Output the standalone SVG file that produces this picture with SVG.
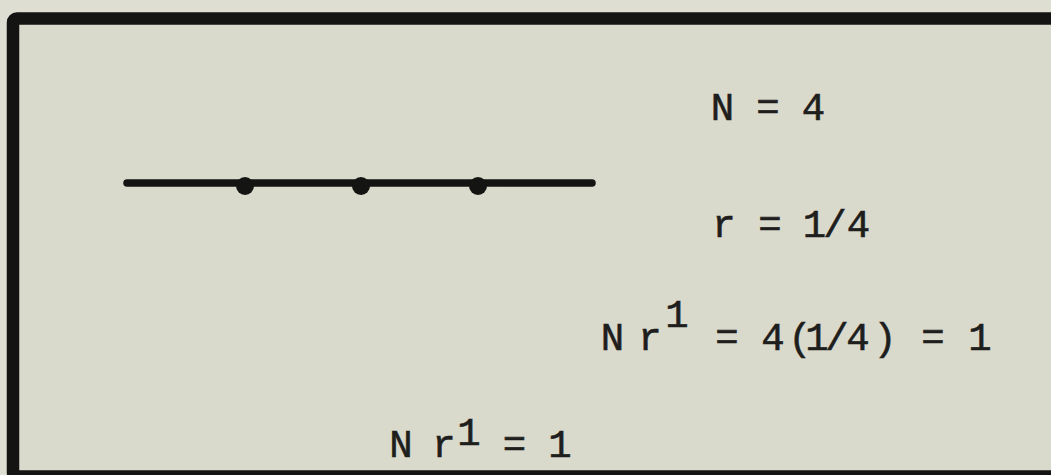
<svg xmlns="http://www.w3.org/2000/svg" width="1051" height="475" viewBox="0 0 1051 475">
<style>
.t{font-family:"Liberation Mono","DejaVu Sans Mono",monospace;font-size:39px;fill:#1e1e1c;text-anchor:middle;stroke:#1e1e1c;stroke-width:0.6}
.dot{fill:#141412}
</style>
<rect x="0" y="0" width="1051" height="475" fill="#deded2"/>
<rect id="frame" x="13" y="18.5" width="1100" height="458" fill="#d9d9cc" stroke="#141412" stroke-width="12.5" rx="4"/>
<g id="connectors">
<line x1="127" y1="183" x2="592" y2="183" stroke="#141412" stroke-width="7.5" stroke-linecap="round"/>
</g>
<g id="point1"><circle class="dot" cx="245" cy="186" r="9"/></g>
<g id="point2"><circle class="dot" cx="361" cy="186" r="9"/></g>
<g id="point3"><circle class="dot" cx="478" cy="186" r="9"/></g>
<g id="eq-N">
<text class="t" x="722.5 768 813.5" y="120">N=4</text>
</g>
<g id="eq-r">
<text class="t" x="724 770 814.5 835 858.5" y="237">r=1/4</text>
</g>
<g id="eq-product">
<text class="t" x="612.5 650" y="350">Nr</text>
<text class="t" x="677" y="327">1</text>
<text class="t" x="727 773 800 817 837 858 885 933 980" y="350">=4(1/4)=1</text>
</g>
<g id="eq-result">
<text class="t" x="401 444" y="457">Nr</text>
<text class="t" x="469" y="445">1</text>
<text class="t" x="514.5 560" y="457">=1</text>
</g>
</svg>
